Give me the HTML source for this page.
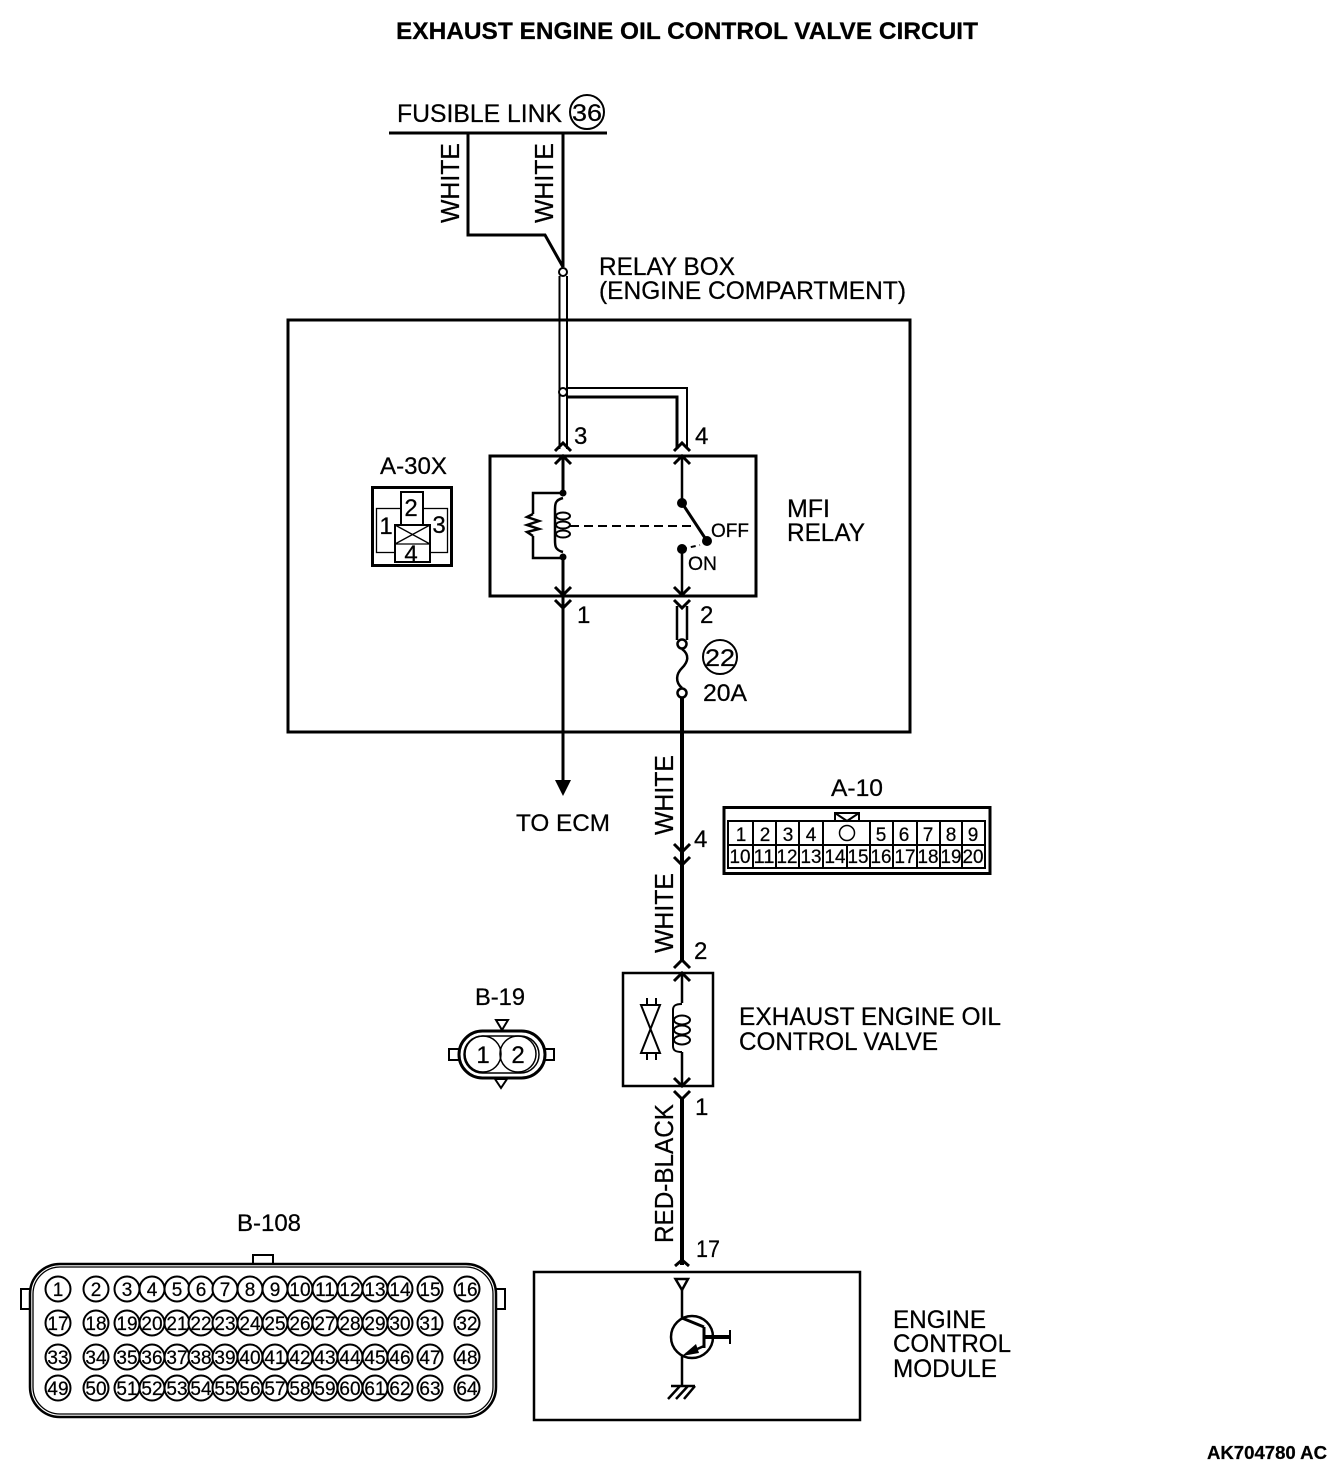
<!DOCTYPE html>
<html><head><meta charset="utf-8"><style>
html,body{margin:0;padding:0;background:#fff}
svg{display:block}
text{font-family:"Liberation Sans",sans-serif;fill:#000;stroke:#000;stroke-width:.25}
.l{font-size:25px}
.r{font-size:26px}
.n{font-size:24px}
.d{font-size:19px;text-anchor:middle}
.p{font-size:19px;text-anchor:middle}
.c{fill:#fff;stroke:#000;stroke-width:2}
.w{fill:none;stroke:#000;stroke-width:2}
.t{fill:none;stroke:#000;stroke-width:3}
.h{fill:none;stroke:#000;stroke-width:4}
.f{fill:none;stroke:#000;stroke-width:1.3}
</style></head><body>
<svg width="1344" height="1472" viewBox="0 0 1344 1472" xmlns="http://www.w3.org/2000/svg">
<rect width="1344" height="1472" fill="#fff"/>
<text x="396" y="39" style="font-size:24px;font-weight:bold" textLength="582" lengthAdjust="spacingAndGlyphs">EXHAUST ENGINE OIL CONTROL VALVE CIRCUIT</text>

<!-- Fusible link -->
<text x="397" y="122" class="l" textLength="165" lengthAdjust="spacingAndGlyphs">FUSIBLE LINK</text>
<circle cx="587" cy="112" r="17" class="w"/>
<text x="587" y="121" class="n" text-anchor="middle" textLength="30" lengthAdjust="spacingAndGlyphs">36</text>
<path d="M389 133H607" class="t"/>
<path d="M468 133V235H545L563 267" class="t"/>
<path d="M563 133V267" class="t"/>
<text transform="translate(459,223) rotate(-90)" class="r" textLength="80" lengthAdjust="spacingAndGlyphs">WHITE</text>
<text transform="translate(553,223) rotate(-90)" class="r" textLength="80" lengthAdjust="spacingAndGlyphs">WHITE</text>
<circle cx="563" cy="272" r="4" class="c"/>
<text x="599" y="275" class="l" textLength="136" lengthAdjust="spacingAndGlyphs">RELAY BOX</text>
<text x="599" y="299" class="l" textLength="307" lengthAdjust="spacingAndGlyphs">(ENGINE COMPARTMENT)</text>

<!-- Relay box -->
<rect x="288" y="320" width="622" height="412" class="t"/>
<path d="M559.500 276V449M567 276V449" class="w"/>
<path d="M567 388H687V449" class="w"/>
<path d="M567 397H677V449" class="t"/>
<circle cx="563" cy="392" r="4" class="c"/>
<text x="574" y="444" class="n">3</text>
<text x="695" y="444" class="n">4</text>
<path d="M555 451L563 443L571 451M555 464L563 456L571 464" class="t"/>
<path d="M674 451L682 443L690 451M674 464L682 456L690 464" class="t"/>

<!-- A-30X -->
<text x="380" y="474" class="n" textLength="67" lengthAdjust="spacingAndGlyphs">A-30X</text>
<rect x="372.500" y="487.500" width="79" height="78" class="t"/>
<rect x="376.500" y="508.500" width="71" height="44" class="f"/>
<rect x="401" y="492" width="22" height="33" fill="#fff" stroke="#000" stroke-width="2"/>
<rect x="395" y="525" width="35" height="37" fill="#fff" stroke="#000" stroke-width="2"/>
<path d="M395 544H430M395 525L430 544M430 525L395 544" class="f"/>
<text x="411" y="516" class="n" text-anchor="middle">2</text>
<text x="386" y="534" class="n" text-anchor="middle">1</text>
<text x="439" y="533" class="n" text-anchor="middle">3</text>
<text x="411" y="562" class="n" text-anchor="middle">4</text>

<!-- MFI relay -->
<rect x="490" y="456" width="266" height="140" class="t"/>
<path d="M563 456V493M563 558V595" class="t"/>
<path d="M563 493H533V514M533 536V558H563" class="w" style="stroke-width:2.500"/>
<path d="M533 514L527 517L539 521L527 525L539 529L527 532L533 536" class="w" style="stroke-width:2.500"/>
<path d="M563 498C555 500 555 504 555 510V540C555 546 555 550 563 552" class="w" style="stroke-width:2.500"/>
<ellipse cx="563" cy="516" rx="7" ry="3.500" class="w"/>
<ellipse cx="563" cy="525" rx="7" ry="3.500" class="w"/>
<ellipse cx="563" cy="534" rx="7" ry="3.500" class="w"/>
<circle cx="563" cy="493" r="3.500"/><circle cx="563" cy="557" r="3.500"/>
<path d="M570 526H697" class="w" stroke-dasharray="9 5"/>
<path d="M682 456V503M682 549V595" class="w" style="stroke-width:2.500"/>
<path d="M682 503L707 541" class="t"/>
<path d="M682 549L700 545" class="w" stroke-dasharray="5 4"/>
<circle cx="682" cy="503" r="5"/><circle cx="707" cy="541" r="5"/><circle cx="682" cy="549" r="5"/>
<text x="711" y="537" style="font-size:19px" textLength="38" lengthAdjust="spacingAndGlyphs">OFF</text>
<text x="688" y="570" style="font-size:19px" textLength="29" lengthAdjust="spacingAndGlyphs">ON</text>
<text x="787" y="517" class="l" textLength="43" lengthAdjust="spacingAndGlyphs">MFI</text>
<text x="787" y="541" class="l" textLength="78" lengthAdjust="spacingAndGlyphs">RELAY</text>

<path d="M555 587L563 595L571 587M555 600L563 608L571 600" class="t"/>
<path d="M674 587L682 595L690 587M674 600L682 608L690 600" class="t"/>
<text x="577" y="623" class="n">1</text>
<text x="700" y="623" class="n">2</text>
<path d="M563 596V782" class="t"/>
<path d="M555 780H571L563 796Z"/>
<text x="516" y="831" class="l" style="font-size:24px" textLength="94" lengthAdjust="spacingAndGlyphs">TO ECM</text>
<path d="M677 606V640M687 606V640" class="t" style="stroke-width:2.500"/>
<circle cx="682" cy="644" r="4.500" class="c" style="stroke-width:2.500"/>
<path d="M682 649C690 655 688 662 682 668C676 674 675 682 682 688" class="w" style="stroke-width:2.500"/>
<circle cx="682" cy="693" r="4.500" class="c" style="stroke-width:2.500"/>
<circle cx="720" cy="657" r="17" class="w"/>
<text x="720" y="666" class="n" text-anchor="middle" textLength="30" lengthAdjust="spacingAndGlyphs">22</text>
<text x="703" y="701" class="n" textLength="44" lengthAdjust="spacingAndGlyphs">20A</text>

<!-- Main wire -->
<path d="M682 698V960M682 1099V1265" class="h"/>
<text transform="translate(673,835) rotate(-90)" class="r" textLength="80" lengthAdjust="spacingAndGlyphs">WHITE</text>
<text transform="translate(673,953) rotate(-90)" class="r" textLength="80" lengthAdjust="spacingAndGlyphs">WHITE</text>
<text transform="translate(673,1243) rotate(-90)" class="r" textLength="139" lengthAdjust="spacingAndGlyphs">RED-BLACK</text>
<path d="M674 844L682 852L690 844M674 857L682 865L690 857" class="t"/>
<text x="694" y="847" class="n">4</text>
<path d="M674 968L682 960L690 968M674 981L682 973L690 981" class="t"/>
<text x="694" y="959" class="n">2</text>

<!-- A-10 -->
<text x="831" y="796" class="n" textLength="52" lengthAdjust="spacingAndGlyphs">A-10</text>
<rect x="724" y="807.500" width="266" height="66" class="t"/>
<rect x="728" y="821" width="257" height="47" class="w"/>
<path d="M728 845H985M753 821V868M776 821V868M799 821V868M823 821V868M870 821V868M893 821V868M917 821V868M940 821V868M962 821V868M847 845V868" class="w"/>
<path d="M835 821V813H859V821M835 813L847 821L859 813" class="w" fill="#fff"/>
<circle cx="847" cy="833" r="7.500" class="f" style="stroke-width:1.500"/>
<text x="741" y="841" class="d">1</text><text x="765" y="841" class="d">2</text><text x="788" y="841" class="d">3</text><text x="811" y="841" class="d">4</text>
<text x="881" y="841" class="d">5</text><text x="904" y="841" class="d">6</text><text x="928" y="841" class="d">7</text><text x="951" y="841" class="d">8</text><text x="973" y="841" class="d">9</text>
<text x="740" y="863" class="d" textLength="21" lengthAdjust="spacingAndGlyphs">10</text><text x="764" y="863" class="d" textLength="21" lengthAdjust="spacingAndGlyphs">11</text><text x="787" y="863" class="d" textLength="21" lengthAdjust="spacingAndGlyphs">12</text><text x="811" y="863" class="d" textLength="21" lengthAdjust="spacingAndGlyphs">13</text><text x="835" y="863" class="d" textLength="21" lengthAdjust="spacingAndGlyphs">14</text><text x="858" y="863" class="d" textLength="21" lengthAdjust="spacingAndGlyphs">15</text><text x="881" y="863" class="d" textLength="21" lengthAdjust="spacingAndGlyphs">16</text><text x="905" y="863" class="d" textLength="21" lengthAdjust="spacingAndGlyphs">17</text><text x="928" y="863" class="d" textLength="21" lengthAdjust="spacingAndGlyphs">18</text><text x="951" y="863" class="d" textLength="21" lengthAdjust="spacingAndGlyphs">19</text><text x="973" y="863" class="d" textLength="21" lengthAdjust="spacingAndGlyphs">20</text>

<!-- B-19 -->
<text x="475" y="1005" class="n" textLength="50" lengthAdjust="spacingAndGlyphs">B-19</text>
<path d="M496 1020H508L502 1030Z" class="w"/>
<path d="M495 1079H507L501 1088Z" class="w"/>
<rect x="449" y="1049" width="11" height="11" class="w"/>
<rect x="544" y="1049" width="10" height="11" class="w"/>
<rect x="459" y="1031" width="86" height="47" rx="23.500" fill="#fff" stroke="#000" stroke-width="3"/>
<rect x="464" y="1036" width="75" height="37" rx="18.500" class="f" style="stroke-width:1.500"/>
<circle cx="483" cy="1054" r="18" class="f" style="stroke-width:1.500"/>
<circle cx="518" cy="1054" r="18" class="f" style="stroke-width:1.500"/>
<text x="483" y="1063" class="n" text-anchor="middle">1</text>
<text x="518" y="1063" class="n" text-anchor="middle">2</text>

<!-- Valve -->
<rect x="623" y="973" width="90" height="113" class="w" style="stroke-width:2.500"/>
<path d="M682 973V1003M682 1052V1086" class="t" style="stroke-width:2.500"/>
<path d="M682 1004C675 1004 673 1006 673 1010V1046C673 1050 675 1052 682 1052" class="w"/>
<ellipse cx="682" cy="1020" rx="8" ry="4.500" class="w"/>
<ellipse cx="682" cy="1030" rx="8" ry="4.500" class="w"/>
<ellipse cx="682" cy="1040" rx="8" ry="4.500" class="w"/>
<path d="M641 1005H660L641 1053H660Z" class="w"/>
<path d="M647 998V1005M656 998V1005M647 1053V1060M656 1053V1060" class="w"/>
<path d="M674 1078L682 1086L690 1078M674 1091L682 1099L690 1091" class="t"/>
<text x="695" y="1115" class="n">1</text>
<text x="739" y="1025" class="l" textLength="262" lengthAdjust="spacingAndGlyphs">EXHAUST ENGINE OIL</text>
<text x="739" y="1050" class="l" textLength="199" lengthAdjust="spacingAndGlyphs">CONTROL VALVE</text>
<text x="696" y="1257" class="n" textLength="24" lengthAdjust="spacingAndGlyphs">17</text>

<!-- ECM -->
<path d="M675 1266L682 1260L689 1266" class="t"/>
<rect x="534" y="1272" width="326" height="148" class="w" style="stroke-width:2.500"/>
<path d="M675.500 1279H688L682 1290Z" class="w" style="stroke-width:2.500"/>
<path d="M682 1290V1318M682 1356V1386" class="w" style="stroke-width:2.500"/>
<circle cx="692" cy="1337" r="21" class="w" style="stroke-width:2.500"/>
<path d="M704 1327V1348M682 1318L704 1327" class="t"/>
<path d="M704 1346L686 1354" class="w" style="stroke-width:2.500"/>
<path d="M682 1356L696 1344L699 1353Z"/>
<path d="M704 1337H730" class="h"/>
<path d="M730 1330V1344" class="w"/>
<path d="M671 1386H695M680 1386L668 1399M688 1386L676 1399M695 1386L684 1399" class="w" style="stroke-width:2.500"/>
<text x="893" y="1328" class="l" textLength="93" lengthAdjust="spacingAndGlyphs">ENGINE</text>
<text x="893" y="1352" class="l" textLength="118" lengthAdjust="spacingAndGlyphs">CONTROL</text>
<text x="893" y="1377" class="l" textLength="104" lengthAdjust="spacingAndGlyphs">MODULE</text>

<!-- B-108 -->
<text x="237" y="1231" class="n" textLength="64" lengthAdjust="spacingAndGlyphs">B-108</text>
<rect x="253" y="1255" width="20" height="10" class="w"/>
<rect x="21" y="1289" width="9" height="20" class="w"/>
<rect x="496" y="1289" width="9" height="20" class="w"/>
<rect x="30" y="1264" width="466" height="153" rx="30" fill="#fff" stroke="#000" stroke-width="2.500"/>
<rect x="33" y="1267" width="460" height="147" rx="27" class="f"/>
<g fill="#fff" stroke="#000" stroke-width="2">
<circle cx="58" cy="1289" r="12.500"/><circle cx="96" cy="1289" r="12.500"/><circle cx="127" cy="1289" r="12.500"/><circle cx="152" cy="1289" r="12.500"/><circle cx="177" cy="1289" r="12.500"/><circle cx="201" cy="1289" r="12.500"/><circle cx="225" cy="1289" r="12.500"/><circle cx="250" cy="1289" r="12.500"/><circle cx="275" cy="1289" r="12.500"/><circle cx="300" cy="1289" r="12.500"/><circle cx="325" cy="1289" r="12.500"/><circle cx="350" cy="1289" r="12.500"/><circle cx="375" cy="1289" r="12.500"/><circle cx="400" cy="1289" r="12.500"/><circle cx="430" cy="1289" r="12.500"/><circle cx="467" cy="1289" r="12.500"/>
<circle cx="58" cy="1323" r="12.500"/><circle cx="96" cy="1323" r="12.500"/><circle cx="127" cy="1323" r="12.500"/><circle cx="152" cy="1323" r="12.500"/><circle cx="177" cy="1323" r="12.500"/><circle cx="201" cy="1323" r="12.500"/><circle cx="225" cy="1323" r="12.500"/><circle cx="250" cy="1323" r="12.500"/><circle cx="275" cy="1323" r="12.500"/><circle cx="300" cy="1323" r="12.500"/><circle cx="325" cy="1323" r="12.500"/><circle cx="350" cy="1323" r="12.500"/><circle cx="375" cy="1323" r="12.500"/><circle cx="400" cy="1323" r="12.500"/><circle cx="430" cy="1323" r="12.500"/><circle cx="467" cy="1323" r="12.500"/>
<circle cx="58" cy="1357" r="12.500"/><circle cx="96" cy="1357" r="12.500"/><circle cx="127" cy="1357" r="12.500"/><circle cx="152" cy="1357" r="12.500"/><circle cx="177" cy="1357" r="12.500"/><circle cx="201" cy="1357" r="12.500"/><circle cx="225" cy="1357" r="12.500"/><circle cx="250" cy="1357" r="12.500"/><circle cx="275" cy="1357" r="12.500"/><circle cx="300" cy="1357" r="12.500"/><circle cx="325" cy="1357" r="12.500"/><circle cx="350" cy="1357" r="12.500"/><circle cx="375" cy="1357" r="12.500"/><circle cx="400" cy="1357" r="12.500"/><circle cx="430" cy="1357" r="12.500"/><circle cx="467" cy="1357" r="12.500"/>
<circle cx="58" cy="1388" r="12.500"/><circle cx="96" cy="1388" r="12.500"/><circle cx="127" cy="1388" r="12.500"/><circle cx="152" cy="1388" r="12.500"/><circle cx="177" cy="1388" r="12.500"/><circle cx="201" cy="1388" r="12.500"/><circle cx="225" cy="1388" r="12.500"/><circle cx="250" cy="1388" r="12.500"/><circle cx="275" cy="1388" r="12.500"/><circle cx="300" cy="1388" r="12.500"/><circle cx="325" cy="1388" r="12.500"/><circle cx="350" cy="1388" r="12.500"/><circle cx="375" cy="1388" r="12.500"/><circle cx="400" cy="1388" r="12.500"/><circle cx="430" cy="1388" r="12.500"/><circle cx="467" cy="1388" r="12.500"/>
</g>
<g>
<text class="p" x="58" y="1296">1</text><text class="p" x="96" y="1296">2</text><text class="p" x="127" y="1296">3</text><text class="p" x="152" y="1296">4</text><text class="p" x="177" y="1296">5</text><text class="p" x="201" y="1296">6</text><text class="p" x="225" y="1296">7</text><text class="p" x="250" y="1296">8</text><text class="p" x="275" y="1296">9</text><text class="p" x="300" y="1296">10</text><text class="p" x="325" y="1296">11</text><text class="p" x="350" y="1296">12</text><text class="p" x="375" y="1296">13</text><text class="p" x="400" y="1296">14</text><text class="p" x="430" y="1296">15</text><text class="p" x="467" y="1296">16</text>
<text class="p" x="58" y="1330">17</text><text class="p" x="96" y="1330">18</text><text class="p" x="127" y="1330">19</text><text class="p" x="152" y="1330">20</text><text class="p" x="177" y="1330">21</text><text class="p" x="201" y="1330">22</text><text class="p" x="225" y="1330">23</text><text class="p" x="250" y="1330">24</text><text class="p" x="275" y="1330">25</text><text class="p" x="300" y="1330">26</text><text class="p" x="325" y="1330">27</text><text class="p" x="350" y="1330">28</text><text class="p" x="375" y="1330">29</text><text class="p" x="400" y="1330">30</text><text class="p" x="430" y="1330">31</text><text class="p" x="467" y="1330">32</text>
<text class="p" x="58" y="1364">33</text><text class="p" x="96" y="1364">34</text><text class="p" x="127" y="1364">35</text><text class="p" x="152" y="1364">36</text><text class="p" x="177" y="1364">37</text><text class="p" x="201" y="1364">38</text><text class="p" x="225" y="1364">39</text><text class="p" x="250" y="1364">40</text><text class="p" x="275" y="1364">41</text><text class="p" x="300" y="1364">42</text><text class="p" x="325" y="1364">43</text><text class="p" x="350" y="1364">44</text><text class="p" x="375" y="1364">45</text><text class="p" x="400" y="1364">46</text><text class="p" x="430" y="1364">47</text><text class="p" x="467" y="1364">48</text>
<text class="p" x="58" y="1395">49</text><text class="p" x="96" y="1395">50</text><text class="p" x="127" y="1395">51</text><text class="p" x="152" y="1395">52</text><text class="p" x="177" y="1395">53</text><text class="p" x="201" y="1395">54</text><text class="p" x="225" y="1395">55</text><text class="p" x="250" y="1395">56</text><text class="p" x="275" y="1395">57</text><text class="p" x="300" y="1395">58</text><text class="p" x="325" y="1395">59</text><text class="p" x="350" y="1395">60</text><text class="p" x="375" y="1395">61</text><text class="p" x="400" y="1395">62</text><text class="p" x="430" y="1395">63</text><text class="p" x="467" y="1395">64</text>
</g>

<text x="1207" y="1459" style="font-size:18px;font-weight:bold" textLength="120" lengthAdjust="spacingAndGlyphs">AK704780 AC</text>
</svg>
</body></html>
